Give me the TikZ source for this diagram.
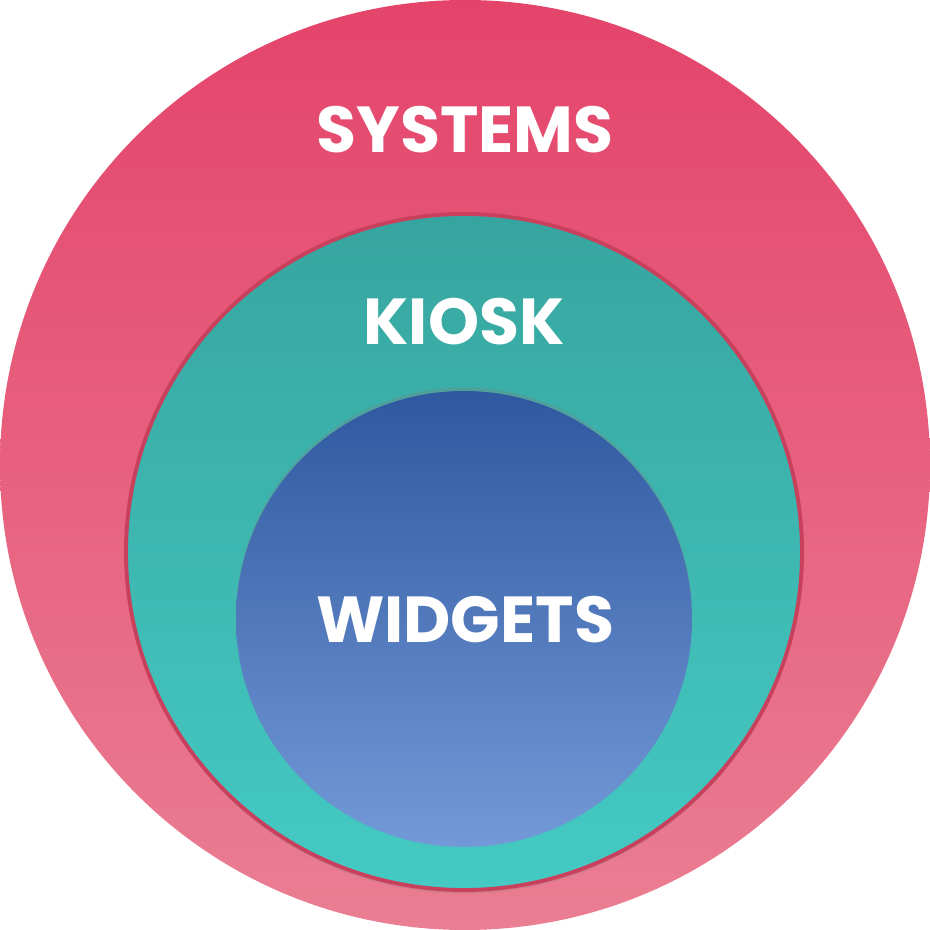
\documentclass[tikz,border=0pt]{standalone}
\usepackage{fontspec}
\setmainfont{Poppins}[BoldFont={* Bold}]
\usetikzlibrary{positioning}
\usetikzlibrary{shadows}
\definecolor{sysTop}{HTML}{E4446A}
\definecolor{sysBot}{HTML}{EA7E92}
\definecolor{kioTop}{HTML}{37A59F}
\definecolor{kioBot}{HTML}{44CAC3}
\definecolor{kioRim}{HTML}{C9405D}
\definecolor{widTop}{HTML}{2E58A0}
\definecolor{widBot}{HTML}{7399D7}
\tikzstyle{ring} = [circle, inner sep=0pt]
\tikzstyle{ringlabel} = [text=white, font=\bfseries\fontsize{18.5}{18.5}\selectfont]

\begin{document}
\begin{tikzpicture}
  \useasboundingbox (0,0) rectangle (9.3,9.3);
  \node[ring, minimum size=9.3cm, top color=sysTop, bottom color=sysBot] (systems) at (4.65,4.65) {};
  \node[ring, minimum size=6.76cm, top color=kioTop, bottom color=kioBot, draw=kioRim, line width=1.1pt,
        drop shadow={shadow xshift=0pt, shadow yshift=-1pt, opacity=0.25}] (kiosk) at (4.64,3.78) {};
  \node[ring, minimum size=4.56cm, top color=widTop, bottom color=widBot,
        drop shadow={shadow xshift=0pt, shadow yshift=1pt, opacity=0.3}] (widgets) at (4.64,3.11) {};

  \node[ringlabel] (systems_l) at (4.65,8.0) {SYSTEMS};
  \node[ringlabel] (kiosk_l) at (4.64,6.08) {KIOSK};
  \node[ringlabel] (widgets_l) at (4.65,3.10) {WIDGETS};
\end{tikzpicture}
\end{document}
